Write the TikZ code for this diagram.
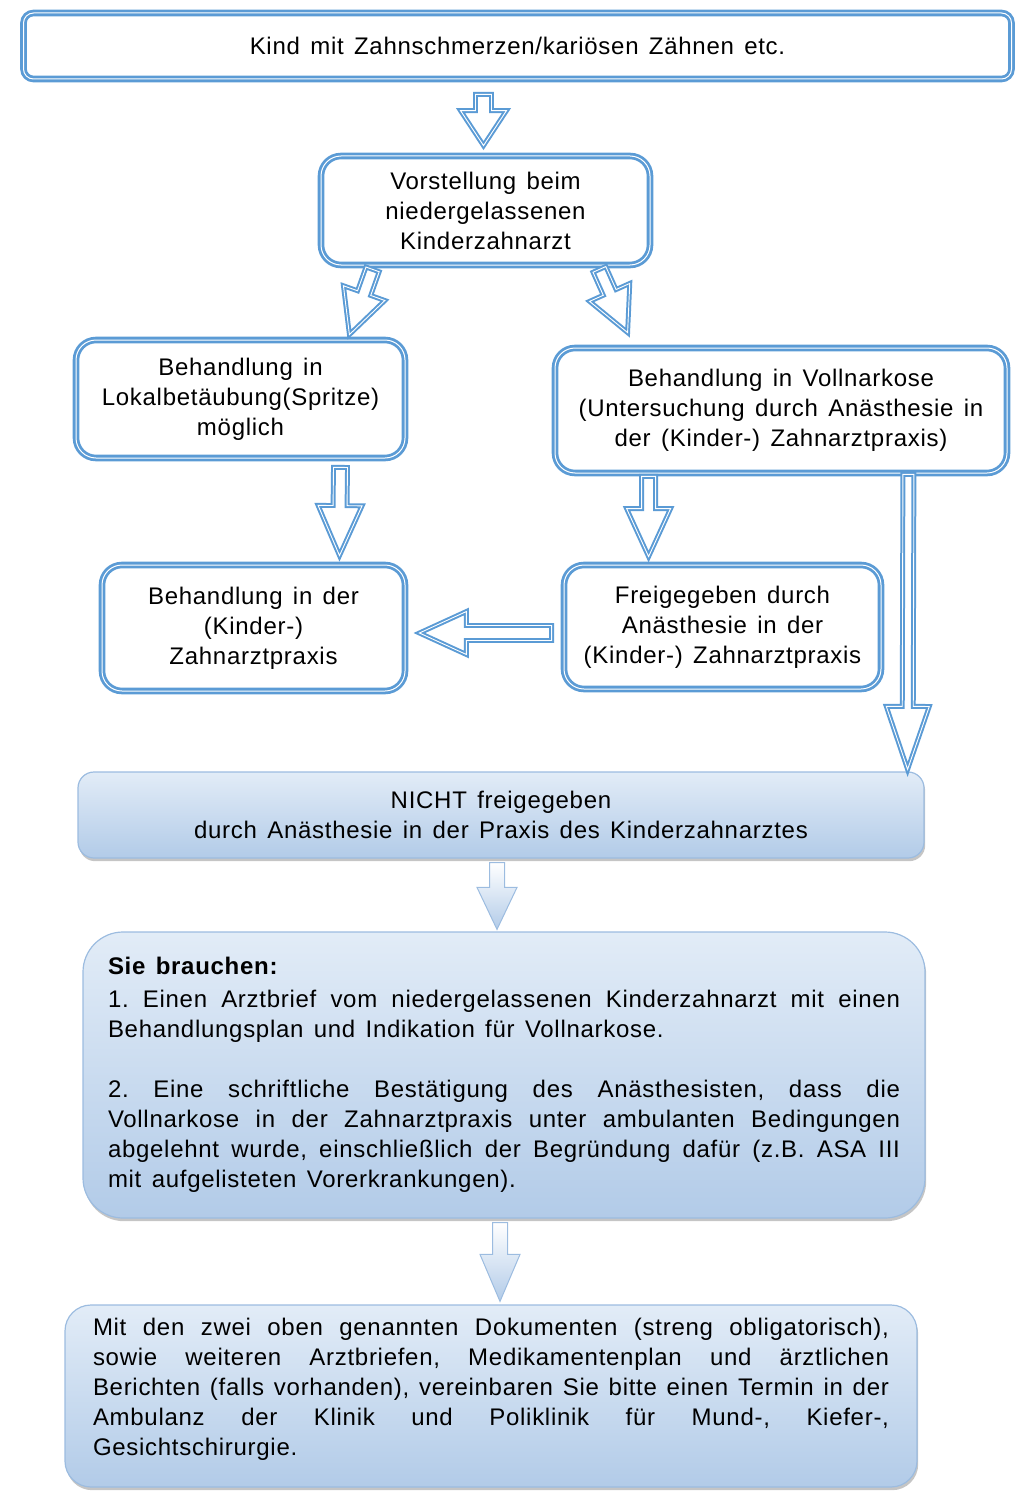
\documentclass[tikz,border=0pt]{standalone}
\usepackage{fontspec}
\setmainfont{Liberation Sans}[LetterSpace=3, WordSpace=1.4]
\usetikzlibrary{calc,shadows}
\definecolor{boxblue}{HTML}{5B9BD5}
\definecolor{paleblue}{HTML}{E2ECF7}
\definecolor{midblue}{HTML}{B2CBE8}
\definecolor{edgeblue}{HTML}{9CBCE0}
\frenchspacing

% hollow block arrow: [style]{from}{to}{shaft half width}{head half width}{head length}
\newcommand{\blockarrow}[6][]{%
  \draw[#1] let \p1=($(#3)-(#2)$), \n1={veclen(\x1,\y1)}, \n2={atan2(\y1,\x1)} in
    {[shift={(#2)}, rotate=\n2]
    (0pt,-#4) -- ({\n1*1pt-#6},-#4) -- ({\n1*1pt-#6},-#5) -- ({\n1*1pt},0pt)
    -- ({\n1*1pt-#6},#5) -- ({\n1*1pt-#6},#4) -- (0pt,#4) -- cycle};
}

\begin{document}
\begin{tikzpicture}[x=0.5pt, y=-0.5pt,
    txt/.style={font=\fontsize{12pt}{15pt}\selectfont},
    flowbox/.style={txt, draw=boxblue, line width=1.4pt, double=white, double distance=0.5pt,
      rounded corners=10pt, align=center, inner sep=0pt},
    hollow/.style={draw=boxblue, line width=1pt, double=white, double distance=0.45pt},
    softbox/.style={txt, draw=edgeblue, line width=0.6pt, top color=paleblue, bottom color=midblue,
      drop shadow={shadow xshift=0.6pt, shadow yshift=-1.6pt, fill=black!45, opacity=0.5},
      inner ysep=0pt},
    softarrow/.style={draw=edgeblue, line width=0.5pt, top color=white, bottom color=midblue}]
  \useasboundingbox (0,0) rectangle (1034,1498);

  \node[flowbox, rounded corners=5pt, minimum width=494pt, minimum height=33pt] (top) at (517.5,46)
    {Kind mit Zahnschmerzen/kariösen Zähnen etc.};
  \node[flowbox, minimum width=164.5pt, minimum height=54.5pt] (visit) at (485.5,210.5)
    {Vorstellung beim\\niedergelassenen\\Kinderzahnarzt};
  \node[flowbox, minimum width=164.5pt, minimum height=59pt] (local) at (240.5,399)
    {Behandlung in\\Lokalbetäubung(Spritze)\\möglich};
  \node[flowbox, minimum width=226pt, minimum height=62.5pt] (general) at (781,410.5)
    {Behandlung in Vollnarkose\\(Untersuchung durch Anästhesie in\\der (Kinder-) Zahnarztpraxis)};
  \node[flowbox, minimum width=151.5pt, minimum height=63pt] (dentist) at (253.5,628)
    {Behandlung in der\\(Kinder-)\\Zahnarztpraxis};
  \node[flowbox, minimum width=158.5pt, minimum height=62pt] (cleared) at (722.5,627)
    {Freigegeben durch\\Anästhesie in der\\(Kinder-) Zahnarztpraxis};

  \node[softbox, rounded corners=8pt, align=center, minimum width=423pt, minimum height=43pt]
    (notcleared) at (501,815)
    {NICHT freigegeben\\durch Anästhesie in der Praxis des Kinderzahnarztes};
  \node[softbox, rounded corners=20pt, align=justify, text width=396pt, inner xsep=12.5pt,
    minimum height=143pt] (needs) at (504,1075)
    {\textbf{Sie brauchen:}\\[1.5pt]
     1. Einen Arztbrief vom niedergelassenen Kinderzahnarzt mit einen\linebreak
     Behandlungsplan und Indikation für Vollnarkose.\\[15pt]
     2. Eine schriftliche Bestätigung des Anästhesisten, dass die\linebreak
     Vollnarkose in der Zahnarztpraxis unter ambulanten Bedingungen\linebreak
     abgelehnt wurde, einschließlich der Begründung dafür (z.B. ASA III\linebreak
     mit aufgelisteten Vorerkrankungen).};
  \node[softbox, rounded corners=13pt, align=justify, text width=398pt, inner xsep=14pt,
    minimum height=91pt] (documents) at (491,1396)
    {Mit den zwei oben genannten Dokumenten (streng obligatorisch),\linebreak
     sowie weiteren Arztbriefen, Medikamentenplan und ärztlichen\linebreak
     Berichten (falls vorhanden), vereinbaren Sie bitte einen Termin in der\linebreak
     Ambulanz der Klinik und Poliklinik für Mund-, Kiefer-,\linebreak
     Gesichtschirurgie.\par\vskip 7pt\hrule height 0pt};

  \coordinate (a1) at ($(top.south -| visit.north)+(-2,14)$);
  \coordinate (b1) at ($(visit.north)+(-2,-9)$);
  \coordinate (a2) at ($(visit.south west)+(53,3)$);
  \coordinate (b2) at ($(local.north east)+(-57,-4)$);
  \coordinate (a3) at ($(visit.south east)+(-52,3)$);
  \coordinate (b3) at ($(general.north west)+(74,-14)$);
  \coordinate (a4) at ($(local.south)+(100,8)$);
  \coordinate (b4) at ($(dentist.north)+(86,-8)$);
  \coordinate (a5) at ($(general.south west)+(95,2)$);
  \coordinate (b5) at ($(cleared.north west)+(86,-7)$);
  \coordinate (a6) at ($(general.south east)+(-100,0)$);
  \coordinate (b6) at ($(notcleared.north east)+(-17,-2)$);
  \coordinate (a7) at ($(cleared.west)+(-11,6)$);
  \coordinate (b7) at ($(dentist.east)+(13,5)$);
  \coordinate (a8) at ($(notcleared.south)+(-4,4)$);
  \coordinate (b8) at ($(needs.north)+(-7,-2)$);
  \coordinate (a9) at ($(needs.south)+(-4,4)$);
  \coordinate (b9) at ($(documents.north)+(9,-3)$);

  \blockarrow[hollow]{a1}{b1}{4pt}{11.5pt}{17.5pt}
  \blockarrow[hollow]{a2}{b2}{3.5pt}{11pt}{22pt}
  \blockarrow[hollow]{a3}{b3}{3.5pt}{11pt}{22pt}
  \blockarrow[hollow]{a4}{b4}{3.5pt}{11pt}{25pt}
  \blockarrow[hollow]{a5}{b5}{3.5pt}{11pt}{24pt}
  \blockarrow[hollow]{a6}{b6}{2.75pt}{10.75pt}{31.5pt}
  \blockarrow[hollow]{a7}{b7}{3.75pt}{10.75pt}{23.5pt}
  \blockarrow[softarrow]{a8}{b8}{3.75pt}{10pt}{21pt}
  \blockarrow[softarrow]{a9}{b9}{3.75pt}{10pt}{23.5pt}
\end{tikzpicture}
\end{document}
